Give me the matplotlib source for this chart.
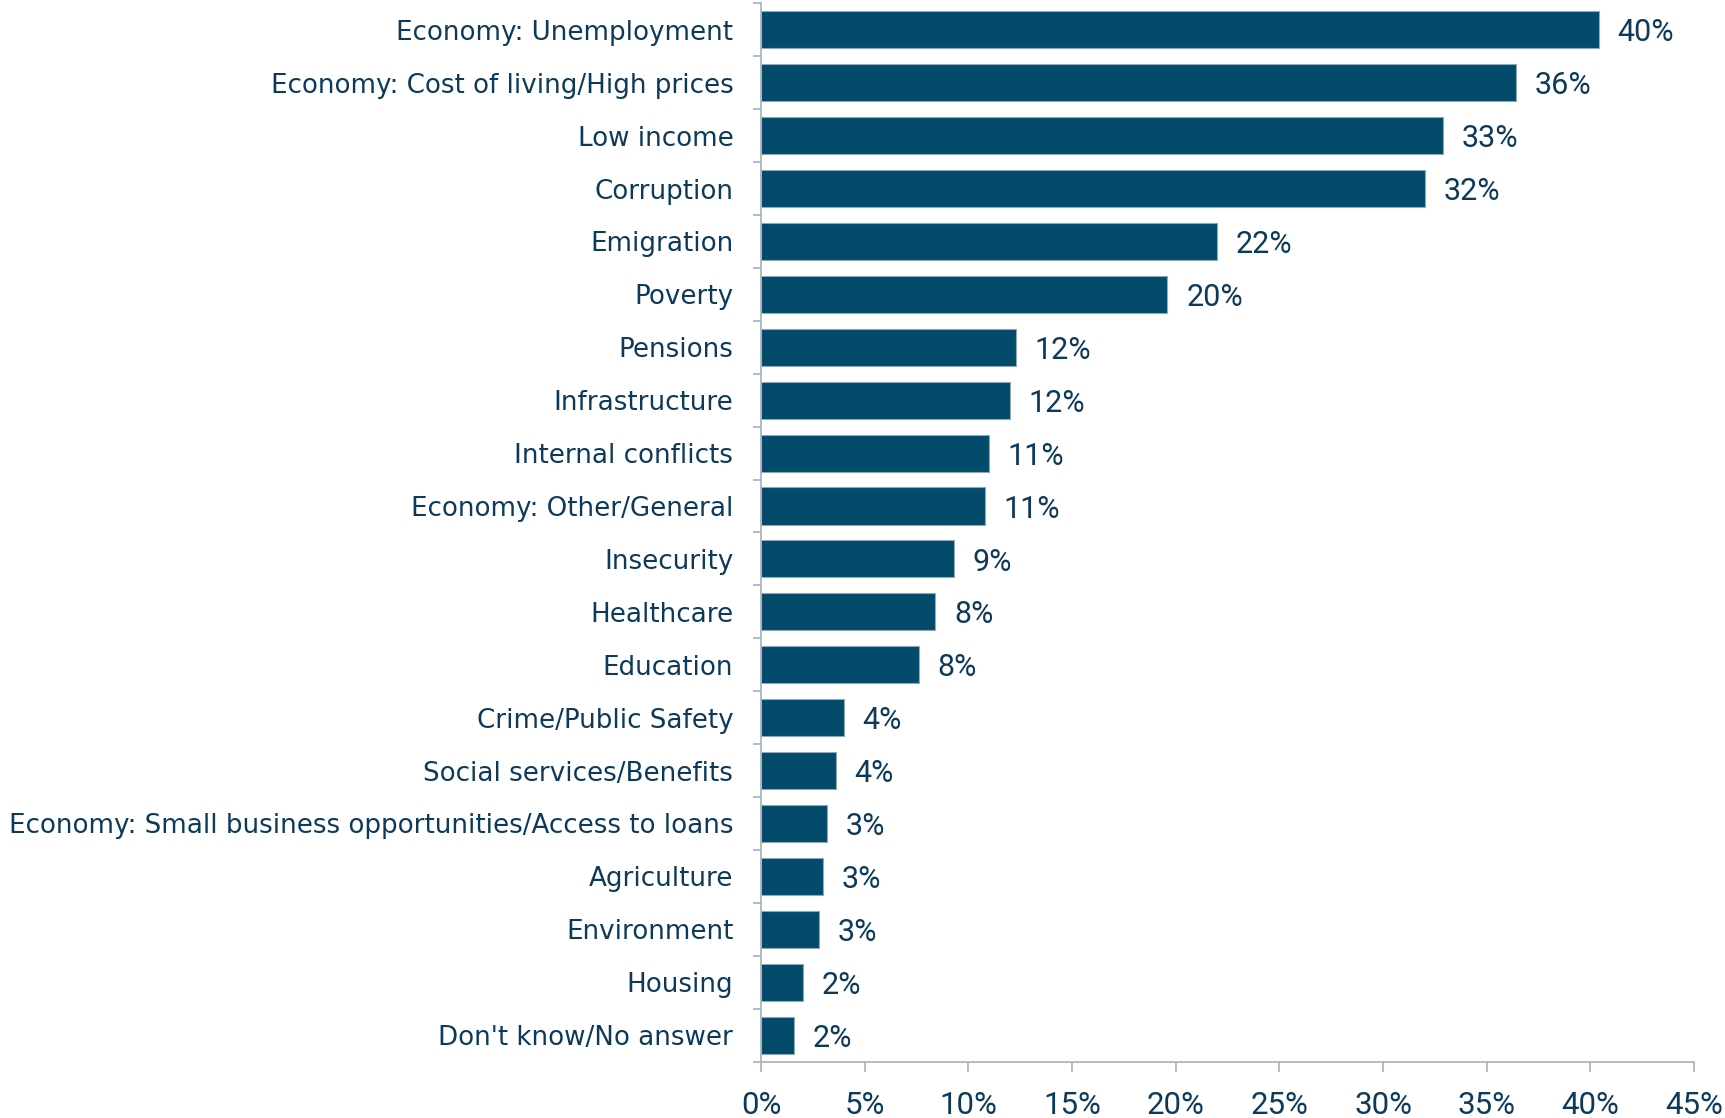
import numpy as np
import matplotlib.pyplot as plt

# =======================
# DATA
# =======================
issues = [
    "Economy: Unemployment",
    "Economy: Cost of living/High prices",
    "Low income",
    "Corruption",
    "Emigration",
    "Poverty",
    "Pensions",
    "Infrastructure",
    "Internal conflicts",
    "Economy: Other/General",
    "Insecurity",
    "Healthcare",
    "Education",
    "Crime/Public Safety",
    "Social services/Benefits",
    "Economy: Small business opportunities/Access to loans",
    "Agriculture",
    "Environment",
    "Housing",
    "Don't know/No answer",
]
shares = [40.4, 36.4, 32.9, 32.0, 22.0, 19.6, 12.3, 12.0, 11.0, 10.8,
          9.3, 8.4, 7.6, 4.0, 3.6, 3.2, 3.0, 2.8, 2.0, 1.6]
xticks = [0, 5, 10, 15, 20, 25, 30, 35, 40, 45]

# =======================
# PLOT
# =======================
bar_color = "#034a6b"
text_color = "#0d3a5a"
axis_color = "#a6b0bc"
num_font = ["Roboto", "DejaVu Sans"]

plt.rcParams["font.family"] = ["DejaVu Sans"]

fig = plt.figure(figsize=(17.25, 11.18), dpi=100)
ax = fig.add_axes([0.4412, 0.0505, 0.5409, 0.9465])

y = np.arange(len(issues))
ax.barh(y, shares, height=0.70, color=bar_color, edgecolor="#8fa7b8", linewidth=0.8)

for yi, v in zip(y, shares):
    ax.text(v + 0.9, yi + 0.06, f"{v:.0f}%", va="center", ha="left",
            fontsize=22, color=text_color, family=num_font)

ax.set_ylim(len(issues) - 0.5, -0.5)
ax.set_xlim(0, 45)

ax.set_yticks(y)
ax.set_yticklabels(issues, fontsize=18.8, color=text_color)
ax.set_yticks(np.arange(len(issues) + 1) - 0.5, minor=True)
ax.tick_params(axis="y", which="major", length=0, pad=20)
ax.tick_params(axis="y", which="minor", length=6, color=axis_color, width=1.2)

ax.set_xticks(xticks)
ax.set_xticklabels([f"{t}%" for t in xticks], fontsize=22.5, color=text_color,
                   family=num_font)
ax.tick_params(axis="x", length=7, color=axis_color, width=1.2, pad=14)

for s in ["top", "right"]:
    ax.spines[s].set_visible(False)
for s in ["left", "bottom"]:
    ax.spines[s].set_color(axis_color)
    ax.spines[s].set_linewidth(1.2)

plt.savefig("out.png", dpi=100)
